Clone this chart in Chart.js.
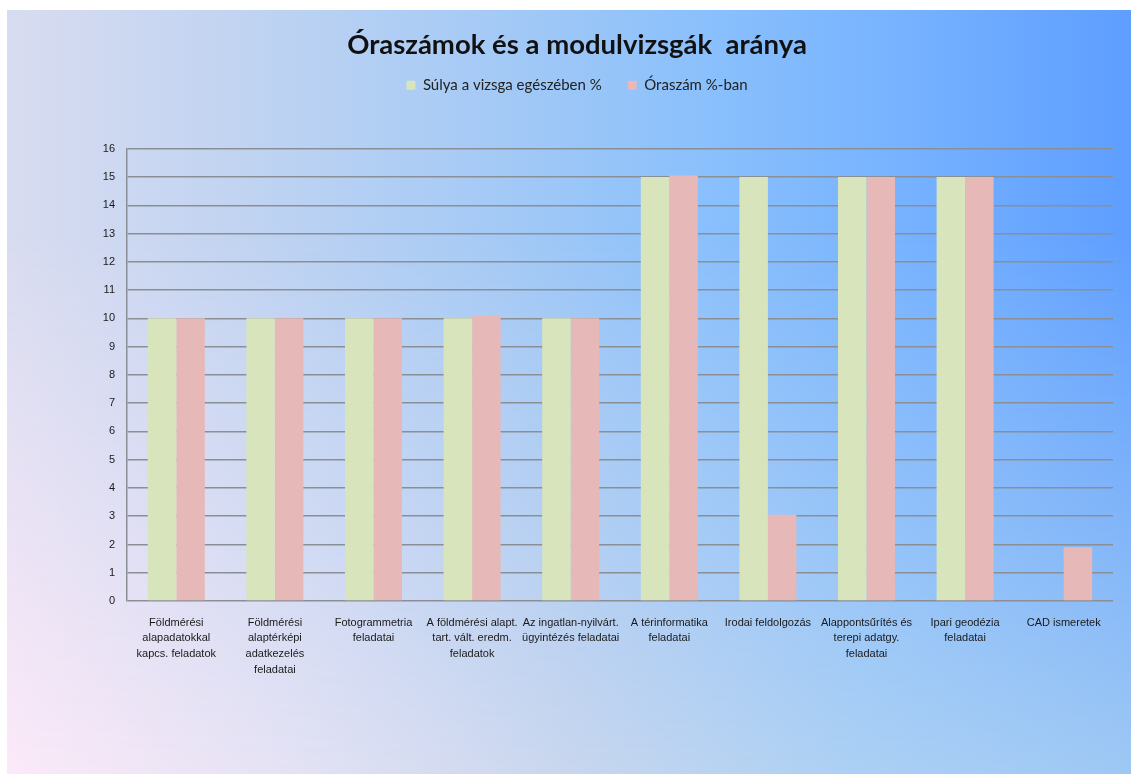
<!DOCTYPE html>
<html>
<head>
<meta charset="utf-8">
<script src="https://cdn.jsdelivr.net/npm/chart.js@4"></script>
<style>
  html, body { margin: 0; padding: 0; background: #ffffff; }
  .bg { position: absolute; left: 7px; top: 10px; width: 1124px; height: 764px; }
  #bgA {
    background: linear-gradient(to right, #d8dcf0 0%, #bcd2f2 25%, #a2c9f6 45%, #8ac0fc 62%, #76b2ff 80%, #5e9eff 100%);
  }
  #bgB {
    background: linear-gradient(to right, #fbe9f8 0%, #e4e2f4 25%, #c8d6ee 50%, #acd0f4 75%, #9ec8f4 100%);
    -webkit-mask-image: linear-gradient(to bottom, rgba(0,0,0,0) 28%, rgba(0,0,0,1) 100%);
    mask-image: linear-gradient(to bottom, rgba(0,0,0,0) 28%, rgba(0,0,0,1) 100%);
  }
  #wrap { background: transparent; }
  canvas { display: block; }
</style>
</head>
<body>
<div class="bg" id="bgA"></div>
<div class="bg" id="bgB"></div>
<div class="bg" id="wrap"><canvas id="c" width="1124" height="764"></canvas></div>
<script>
const titleText = "Óraszámok és a modulvizsgák  aránya";
const seriesNames = ["Súlya a vizsga egészében %", "Óraszám %-ban"];
const categories = [
  ["Földmérési", "alapadatokkal", "kapcs. feladatok"],
  ["Földmérési", "alaptérképi", "adatkezelés", "feladatai"],
  ["Fotogrammetria", "feladatai"],
  ["A földmérési alapt.", "tart. vált. eredm.", "feladatok"],
  ["Az ingatlan-nyilvárt.", "ügyintézés feladatai"],
  ["A térinformatika", "feladatai"],
  ["Irodai feldolgozás"],
  ["Alappontsűrítés és", "terepi adatgy.", "feladatai"],
  ["Ipari geodézia", "feladatai"],
  ["CAD ismeretek"]
];
const sulya = [10, 10, 10, 10, 10, 15, 15, 15, 15, 0];
const oraszam = [10, 10, 10, 10.1, 10, 15.05, 3.05, 15, 15, 1.9];
const yTicks = [0, 16, 1]; // min, max, step

const gridColor = "#8a8f96";

const legendSpacer = {
  id: "legendSpacer",
  afterInit(chart) {
    const lg = chart.legend;
    if (!lg) return;
    const orig = lg.fit.bind(lg);
    lg.fit = function () { orig(); this.height += 46; };
  }
};

new Chart(document.getElementById("c"), {
  type: "bar",
  data: {
    labels: categories,
    datasets: [
      { label: seriesNames[0], data: sulya, backgroundColor: "#d8e4bc", borderWidth: 0 },
      { label: seriesNames[1], data: oraszam, backgroundColor: "#e6b9b8", borderWidth: 0 }
    ]
  },
  options: {
    responsive: false,
    animation: false,
    devicePixelRatio: 1,
    layout: { padding: { left: 34, right: 18, top: 0, bottom: 0 } },
    datasets: { bar: { categoryPercentage: 0.578, barPercentage: 1.0 } },
    plugins: {
      title: {
        display: true,
        text: titleText,
        font: { family: "Lato", size: 27.5, weight: "bold", lineHeight: 0.5 },
        color: "#111111",
        padding: { top: 28, bottom: 0 }
      },
      legend: {
        display: true,
        position: "top",
        labels: {
          font: { family: "Lato", size: 15 },
          color: "#222222",
          boxWidth: 9,
          boxHeight: 9,
          padding: 26
        }
      },
      tooltip: { enabled: false }
    },
    scales: {
      x: {
        grid: { display: false, drawTicks: false },
        border: { display: false },
        ticks: {
          maxRotation: 0, minRotation: 0, autoSkip: false,
          padding: 14,
          color: "#1a1a1a",
          font: { family: "Liberation Sans", size: 11, lineHeight: 1.42 }
        },
        afterFit(scale) { scale.height = 173; }
      },
      y: {
        min: yTicks[0], max: yTicks[1],
        grid: { color: gridColor, lineWidth: 1.5, drawTicks: false },
        border: { display: true, color: gridColor, width: 1.5 },
        ticks: {
          stepSize: yTicks[2],
          padding: 12,
          color: "#1a1a1a",
          font: { family: "Liberation Sans", size: 11 }
        },
        afterFit(scale) { scale.width = 86; }
      }
    }
  },
  plugins: [legendSpacer]
});
</script>
</body>
</html>
